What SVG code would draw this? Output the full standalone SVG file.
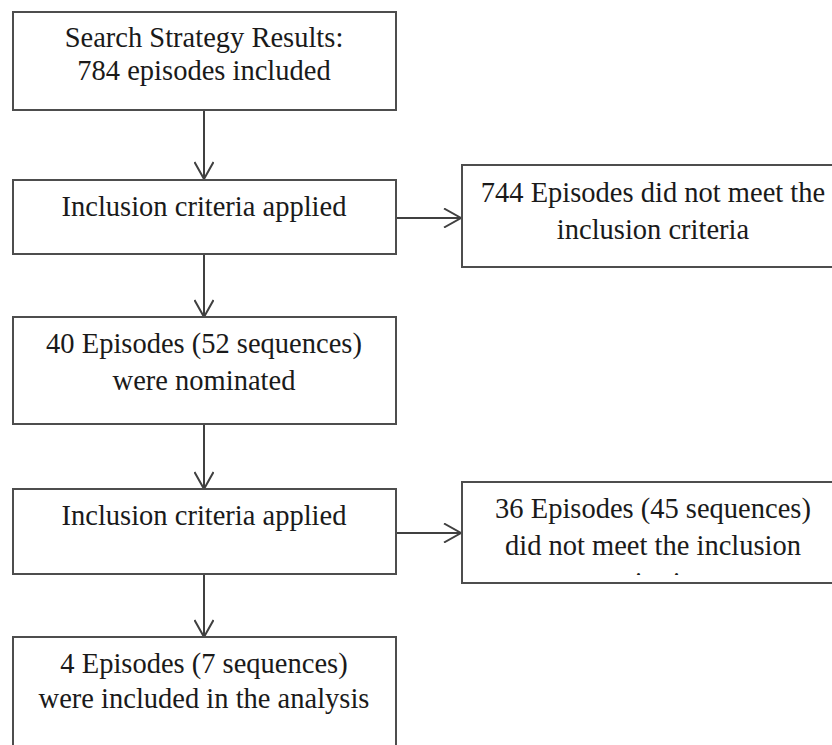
<svg xmlns="http://www.w3.org/2000/svg" width="832" height="745" viewBox="0 0 832 745">
<defs>
<style>
.box{fill:#fff;stroke:#4d4d4d;stroke-width:2}
.t{font-size:28.5px;fill:#1a1a1a;text-anchor:middle}
.c{fill:none;stroke:#404040;stroke-width:2}
</style>
<marker id="ah" viewBox="0 0 20 20" refX="18" refY="10" markerWidth="20" markerHeight="20" markerUnits="userSpaceOnUse" orient="auto">
<path d="M1,0.5 L18,10 L1,19.5" fill="none" stroke="#404040" stroke-width="2"/>
</marker>
<clipPath id="clipdots"><rect x="462" y="480" width="380" height="95"/></clipPath>
</defs>
<rect width="832" height="745" fill="#fff"/>
<g id="connectors">
<line class="c" x1="204" y1="110" x2="204" y2="179" marker-end="url(#ah)"/>
<line class="c" x1="396" y1="218" x2="461" y2="218" marker-end="url(#ah)"/>
<line class="c" x1="204" y1="254" x2="204" y2="317" marker-end="url(#ah)"/>
<line class="c" x1="204" y1="424" x2="204" y2="489" marker-end="url(#ah)"/>
<line class="c" x1="396" y1="533" x2="461" y2="533" marker-end="url(#ah)"/>
<line class="c" x1="204" y1="574" x2="204" y2="637" marker-end="url(#ah)"/>
</g>
<g font-family="'Liberation Serif', 'Times New Roman', 'DejaVu Serif', serif">
<g id="search">
<rect class="box" x="13" y="12" width="383" height="98"/>
<text class="t" x="204" y="47">Search Strategy Results:</text>
<text class="t" x="204" y="80">784 episodes included</text>
</g>
<g id="criteria1">
<rect class="box" x="13" y="180" width="383" height="74"/>
<text class="t" x="204" y="216">Inclusion criteria applied</text>
</g>
<g id="excluded1">
<rect class="box" x="462" y="165" width="382" height="102"/>
<text class="t" x="653" y="202">744 Episodes did not meet the</text>
<text class="t" x="653" y="239">inclusion criteria</text>
</g>
<g id="nominated">
<rect class="box" x="13" y="317" width="383" height="107"/>
<text class="t" x="204" y="353">40 Episodes (52 sequences)</text>
<text class="t" x="204" y="390">were nominated</text>
</g>
<g id="criteria2">
<rect class="box" x="13" y="489" width="383" height="85"/>
<text class="t" x="204" y="525">Inclusion criteria applied</text>
</g>
<g id="excluded2">
<rect class="box" x="462" y="482" width="382" height="101"/>
<text class="t" x="653" y="518">36 Episodes (45 sequences)</text>
<text class="t" x="653" y="555">did not meet the inclusion</text>
<text class="t" x="653" y="592" clip-path="url(#clipdots)">criteria</text>
</g>
<g id="included">
<rect class="box" x="13" y="637" width="383" height="120"/>
<text class="t" x="204" y="673">4 Episodes (7 sequences)</text>
<text class="t" x="204" y="708">were included in the analysis</text>
</g>
</g>
</svg>
